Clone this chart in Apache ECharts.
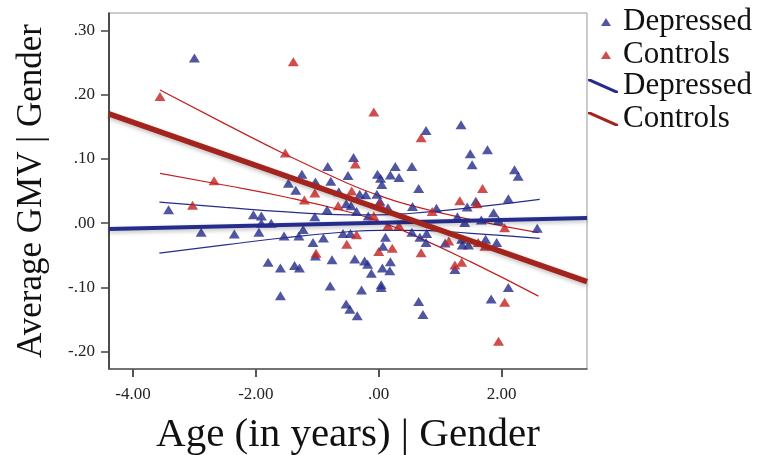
<!DOCTYPE html>
<html>
<head>
<meta charset="utf-8">
<script src="https://cdn.jsdelivr.net/npm/echarts@6/dist/echarts.min.js"></script>
<style>
  html, body { margin: 0; padding: 0; background: #ffffff; }
  #chart { width: 767px; height: 455px; }
</style>
</head>
<body>
<div id="chart"></div>
<script>
// Age-residualised scores (x) against average GMV residuals (y)
const depressedPoints = [
  [-3.00, 0.257], [-0.83, 0.088], [-1.25, 0.076], [-0.50, 0.074], [-1.47, 0.062],
  [-1.03, 0.064], [-0.78, 0.065], [-1.35, 0.051], [-0.65, 0.049], [0.77, 0.144],
  [1.34, 0.153], [1.49, 0.108], [1.77, 0.114], [1.52, 0.091], [2.21, 0.083],
  [2.27, 0.073], [-0.41, 0.102], [0.27, 0.088], [0.54, 0.088], [-0.02, 0.076],
  [0.19, 0.075], [0.33, 0.071], [0.03, 0.070], [0.05, 0.060], [0.65, 0.054],
  [-0.31, 0.045], [-0.21, 0.044], [-0.03, 0.045], [2.11, 0.038], [-0.53, 0.030],
  [-0.45, 0.027], [0.02, 0.034], [0.15, 0.024], [-0.84, 0.021], [-0.36, 0.018],
  [-1.04, 0.010], [-0.17, 0.011], [1.58, 0.034], [1.44, 0.025], [0.55, 0.026],
  [0.94, 0.023], [1.87, 0.016], [1.28, 0.010], [2.58, -0.008], [-1.23, -0.010],
  [-0.58, -0.016], [-0.46, -0.016], [0.54, -0.014], [0.78, -0.016], [-1.07, -0.030],
  [-0.90, -0.023], [0.11, -0.022], [0.67, -0.022], [0.07, -0.036], [0.77, -0.030],
  [1.08, -0.031], [1.35, -0.025], [1.36, -0.034], [1.46, -0.034], [1.74, -0.025],
  [1.92, -0.030], [-1.03, -0.051], [-0.76, -0.057], [-0.39, -0.056], [-0.23, -0.059],
  [-0.18, -0.064], [0.19, -0.060], [0.06, -0.070], [0.18, -0.074], [-0.12, -0.078],
  [1.24, -0.072], [-0.79, -0.098], [-0.28, -0.104], [0.04, -0.096], [0.04, -0.100],
  [2.11, -0.100], [-0.53, -0.126], [-0.47, -0.134], [-0.35, -0.144], [0.65, -0.122],
  [0.72, -0.142], [1.83, -0.118], [1.40, 0.001], [1.67, 0.005], [1.95, 0.004],
  [-3.42, 0.021], [-2.04, 0.013], [-1.91, 0.011], [-1.91, 0.000], [-1.75, 0.000],
  [-2.89, -0.014], [-2.35, -0.017], [-1.95, -0.014], [-1.54, -0.020], [-1.30, -0.020],
  [-1.80, -0.061], [-1.60, -0.070], [-1.60, -0.113], [-1.37, -0.066], [-1.29, -0.070]
];

const controlPoints = [
  [-1.39, 0.251], [-3.56, 0.197], [-1.52, 0.109], [-2.68, 0.066], [-1.04, 0.047],
  [-1.21, 0.036], [-0.08, 0.173], [0.69, 0.133], [-0.38, 0.092], [1.69, 0.054],
  [-0.44, 0.050], [1.32, 0.035], [-0.66, 0.027], [0.02, 0.030], [-0.08, 0.011],
  [1.60, 0.030], [0.87, 0.018], [2.05, -0.007], [0.15, -0.004], [0.33, -0.004],
  [-0.36, -0.018], [-0.52, -0.033], [0.22, -0.039], [0.00, -0.044], [0.69, -0.046],
  [1.14, -0.028], [-1.02, -0.047], [1.24, -0.065], [1.35, -0.061], [2.05, -0.123],
  [1.95, -0.184], [-3.03, 0.028], [1.62, -0.030], [1.73, -0.036]
];

// Fitted lines across the whole axis range
const depressedFit = [[-4.39, -0.009], [3.39, 0.008]];
const controlsFit = [[-4.39, 0.170], [3.39, -0.091]];

// 95% confidence bands of the fitted means
const depressedUpper = [[-3.57, 0.0326], [-2.5, 0.0244], [-1.5, 0.0174], [-0.5, 0.0128], [0, 0.0128], [0.5, 0.0150], [1.5, 0.0240], [2.62, 0.0369]];
const depressedLower = [[-3.57, -0.0468], [-2.5, -0.0338], [-1.5, -0.0224], [-0.5, -0.0134], [0, -0.0112], [0.5, -0.0112], [1.5, -0.0158], [2.62, -0.0237]];
const controlsUpper = [[-3.56, 0.2071], [-2.5, 0.1545], [-1.5, 0.1061], [-0.5, 0.0617], [0, 0.0431], [0.5, 0.0281], [1.5, 0.0055], [2.6, -0.0148]];
const controlsLower = [[-3.56, 0.0773], [-2.5, 0.0589], [-1.5, 0.0403], [-0.5, 0.0177], [0, 0.0027], [0.5, -0.0159], [1.5, -0.0603], [2.6, -0.1136]];

const xTicks = [-4, -2, 0, 2];
const yTicks = [-0.2, -0.1, 0, 0.1, 0.2, 0.3];

const BLUE = '#262c8c';
const RED = '#c42020';
const BLUE_LINE = '#262c8c';
const RED_LINE = '#a3241c';
const SERIF = '"Liberation Serif", "DejaVu Serif", serif';

function fmt(v) {
  const s = Math.abs(v).toFixed(2).replace(/^0/, '');
  return (v < 0 ? '-' : '') + s;
}

const chart = echarts.init(document.getElementById('chart'), null, { renderer: 'canvas' });

const lineIcon = 'path://M0,0 L3,0 L30,12 L30,14 L27,14 L0,2 Z';

const thinLine = (name, data, color) => ({
  name, type: 'line', data, smooth: true, symbol: 'none', silent: true,
  lineStyle: { color, width: 1.2 }, z: 3
});

chart.setOption({
  animation: false,
  backgroundColor: '#ffffff',
  grid: {
    left: 109, top: 13, right: 180, bottom: 86,
    containLabel: false, outerBoundsMode: 'none',
    show: true, borderColor: '#9a9a9a', borderWidth: 1, backgroundColor: 'transparent'
  },
  legend: [
    {
      orient: 'vertical', left: 596, top: 1,
      itemWidth: 10, itemHeight: 8, itemGap: 1,
      textStyle: { fontFamily: SERIF, fontSize: 31, color: '#111', lineHeight: 32, padding: [0, 0, 0, 7] },
      data: [
        { name: 'Depressed', icon: 'triangle' },
        { name: 'Controls', icon: 'triangle' }
      ],
      formatter: n => n
    },
    {
      orient: 'vertical', left: 583, top: 65,
      itemWidth: 30, itemHeight: 14, itemGap: 1,
      textStyle: { fontFamily: SERIF, fontSize: 31, color: '#111', lineHeight: 32, padding: [0, 0, 0, 0] },
      data: [
        { name: 'Depressed fit', icon: lineIcon },
        { name: 'Controls fit', icon: lineIcon }
      ],
      formatter: n => n.replace(' fit', '')
    }
  ],
  xAxis: {
    type: 'value', min: -4.39, max: 3.39,
    name: 'Age (in years) | Gender', nameLocation: 'middle', nameGap: 46,
    nameTextStyle: { fontFamily: SERIF, fontSize: 41, color: '#111' },
    axisLine: { show: true, onZero: false, lineStyle: { color: '#555', width: 1.5 } },
    axisTick: { show: true, length: 8, customValues: xTicks, lineStyle: { color: '#555', width: 2 } },
    axisLabel: { customValues: xTicks, formatter: fmt, margin: 17, fontFamily: SERIF, fontSize: 17, color: '#222' },
    splitLine: { show: false }
  },
  yAxis: {
    type: 'value', min: -0.227, max: 0.327,
    name: 'Average GMV | Gender', nameLocation: 'middle', nameGap: 60, nameRotate: 90,
    nameTextStyle: { fontFamily: SERIF, fontSize: 35, color: '#111' },
    axisLine: { show: true, onZero: false, lineStyle: { color: '#222', width: 1.5 } },
    axisTick: { show: true, length: 8, customValues: yTicks, lineStyle: { color: '#444', width: 1.5 } },
    axisLabel: { customValues: yTicks, formatter: fmt, margin: 14, fontFamily: SERIF, fontSize: 17, color: '#222' },
    splitLine: { show: false }
  },
  series: [
    {
      name: 'Depressed', type: 'scatter', data: depressedPoints,
      symbol: 'triangle', symbolSize: [11, 9],
      itemStyle: { color: BLUE }, z: 4
    },
    {
      name: 'Controls', type: 'scatter', data: controlPoints,
      symbol: 'triangle', symbolSize: [11, 9],
      itemStyle: { color: RED }, z: 4
    },
    thinLine('Depressed upper', depressedUpper, BLUE_LINE),
    thinLine('Depressed lower', depressedLower, BLUE_LINE),
    thinLine('Controls upper', controlsUpper, RED),
    thinLine('Controls lower', controlsLower, RED),
    {
      name: 'Depressed fit', type: 'line', data: depressedFit, symbol: 'none',
      itemStyle: { color: BLUE_LINE },
      lineStyle: { color: BLUE_LINE, width: 4, shadowBlur: 4, shadowColor: 'rgba(0,0,0,0.25)', shadowOffsetY: 2 },
      z: 5
    },
    {
      name: 'Controls fit', type: 'line', data: controlsFit, symbol: 'none',
      itemStyle: { color: RED_LINE },
      lineStyle: { color: RED_LINE, width: 5.5, shadowBlur: 4, shadowColor: 'rgba(0,0,0,0.25)', shadowOffsetY: 2 },
      z: 5
    }
  ]
});
</script>
</body>
</html>
